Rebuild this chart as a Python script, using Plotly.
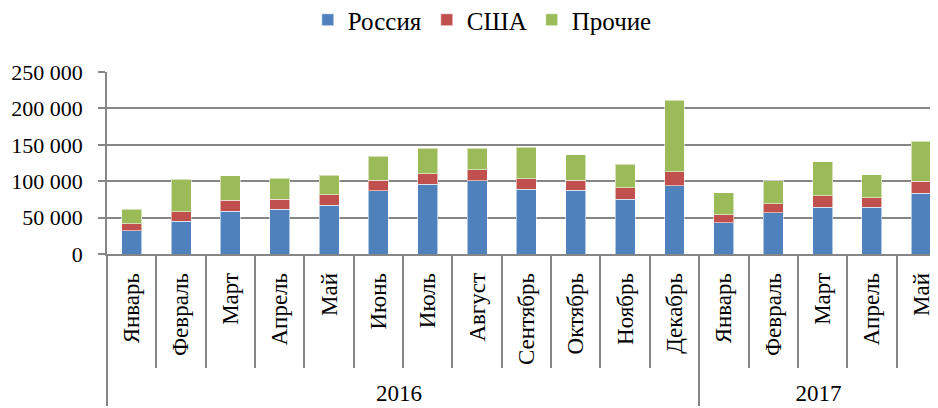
import plotly.graph_objects as go

years = ["2016"] * 12 + ["2017"] * 5
months = ["Январь", "Февраль", "Март", "Апрель", "Май", "Июнь", "Июль", "Август",
          "Сентябрь", "Октябрь", "Ноябрь", "Декабрь",
          "Январь", "Февраль", "Март", "Апрель", "Май"]
russia = [32000, 44900, 58600, 61400, 66900, 87000, 95700, 100300, 88800, 87900,
          75100, 93900, 43000, 56800, 64100, 64100, 83300]
usa = [9600, 13200, 15100, 13700, 14600, 14200, 14200, 15500, 14700, 13700,
       16000, 19200, 11000, 12300, 16000, 13300, 16500]
other = [20200, 44500, 33900, 29300, 27000, 33400, 35300, 29800, 43000, 34400,
         32500, 98400, 29800, 31200, 46700, 31600, 55000]
y_ticks = [0, 50000, 100000, 150000, 200000, 250000]

series = [("Россия", russia, "#4F81BD"), ("США", usa, "#C0504D"), ("Прочие", other, "#9BBB59")]

GRAY = "#868686"
FONT = "Times New Roman, Liberation Serif, serif"

fig = go.Figure()
for name, vals, color in series:
    fig.add_trace(go.Bar(
        x=[years, months], y=vals, name=name,
        marker=dict(color=color, line=dict(color="rgba(255,255,255,0.55)", width=1)),
    ))

fig.update_layout(
    width=930, height=400,
    barmode="stack", bargap=0.595,
    separators=", ",
    paper_bgcolor="white", plot_bgcolor="white",
    font=dict(family=FONT, color="black", size=22),
    margin=dict(l=99, r=0, t=64, b=154, autoexpand=False),
    legend=dict(
        orientation="h", xref="container", yref="paper",
        x=0.51, xanchor="center", y=1.2857, yanchor="middle",
        font=dict(size=25, family=FONT, color="black"), traceorder="normal",
    ),
    xaxis=dict(
        type="multicategory", range=[-0.5, 16.34],
        showline=True, linecolor=GRAY, linewidth=1.5,
        ticks="outside", ticklen=112, tickcolor=GRAY, tickwidth=1.5,
        tickangle=-90, tickfont=dict(size=23, family=FONT, color="black"),
        ticklabelstandoff=8,
        showdividers=True, dividercolor=GRAY, dividerwidth=1.5,
        showgrid=False,
    ),
    yaxis=dict(
        range=[0, 250000], tickvals=y_ticks, tickformat=",d",
        showline=True, linecolor=GRAY, linewidth=1.5,
        ticks="outside", ticklen=7, tickcolor=GRAY, tickwidth=1.5,
        showgrid=True, gridcolor=GRAY, gridwidth=1.5,
        zeroline=False, tickfont=dict(size=22, family=FONT, color="black"),
        ticklabelstandoff=11,
    ),
)

fig.write_html("out.html")
